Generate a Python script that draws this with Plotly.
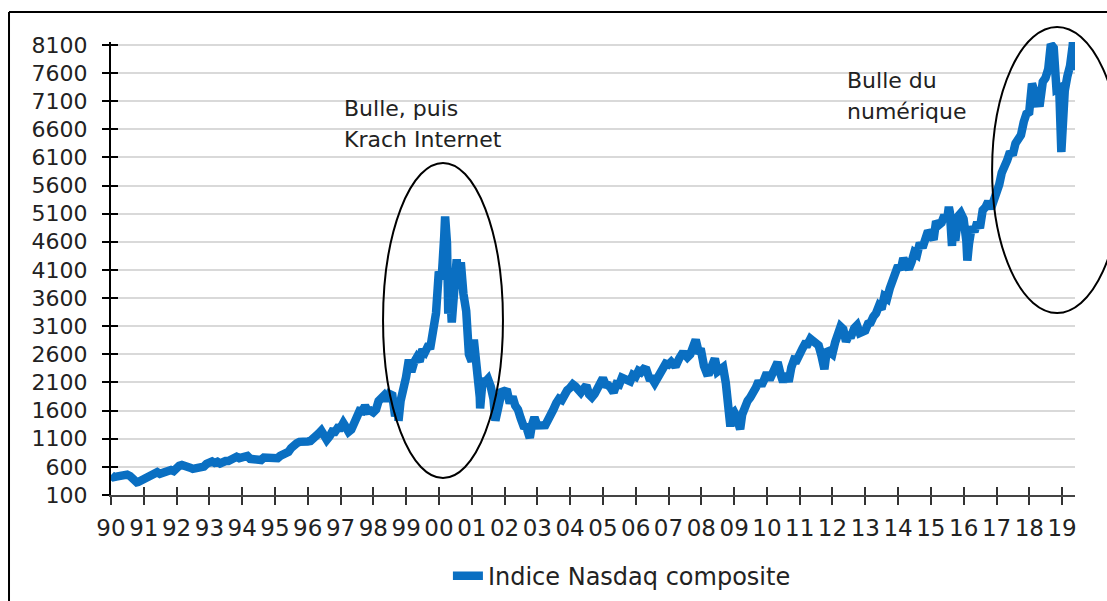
import pandas as pd
import plotly.graph_objects as go

# Monthly closing levels (approx.), Jan..Dec of each year
y1990 = [416, 426, 436, 420, 459, 462, 438, 381, 345, 330, 359, 374]
y1991 = [414, 453, 482, 485, 506, 476, 502, 526, 527, 543, 524, 586]
y1992 = [620, 633, 604, 579, 585, 564, 581, 563, 583, 605, 653, 677]
y1993 = [696, 671, 690, 661, 701, 704, 705, 743, 763, 779, 754, 777]
y1994 = [800, 793, 743, 734, 735, 706, 722, 766, 764, 777, 750, 752]
y1995 = [755, 794, 817, 844, 865, 933, 1001, 1020, 1044, 1036, 1059, 1052]
y1996 = [1060, 1100, 1101, 1191, 1243, 1185, 1081, 1142, 1227, 1222, 1293, 1291]
y1997 = [1380, 1309, 1222, 1261, 1400, 1442, 1594, 1587, 1686, 1594, 1601, 1570]
y1998 = [1619, 1771, 1836, 1868, 1779, 1895, 1872, 1499, 1694, 1771, 1950, 2193]
y1999 = [2506, 2288, 2461, 2543, 2471, 2686, 2638, 2739, 2746, 2966, 3336, 4069]
y2000 = [3940, 4697, 4573, 3861, 3401, 3966, 3767, 4206, 3673, 3370, 2598, 2471]
y2001 = [2773, 2152, 1840, 2116, 2110, 2161, 2027, 1805, 1499, 1690, 1931, 1950]
y2002 = [1934, 1731, 1845, 1688, 1616, 1463, 1328, 1315, 1172, 1330, 1479, 1336]
y2003 = [1321, 1338, 1341, 1464, 1596, 1623, 1735, 1810, 1787, 1932, 1960, 2003]
y2004 = [2066, 2030, 1994, 1920, 1987, 2048, 1887, 1838, 1897, 1975, 2097, 2175]
y2005 = [2062, 2052, 1999, 1922, 2068, 2057, 2185, 2152, 2152, 2120, 2233, 2205]
y2006 = [2306, 2281, 2340, 2323, 2179, 2172, 2091, 2184, 2258, 2367, 2432, 2415]
y2007 = [2464, 2416, 2422, 2525, 2605, 2603, 2546, 2596, 2702, 2859, 2661, 2652]
y2008 = [2390, 2271, 2279, 2413, 2523, 2293, 2326, 2368, 2092, 1721, 1536, 1577]
y2009 = [1476, 1378, 1529, 1717, 1774, 1835, 1979, 2009, 2122, 2045, 2145, 2269]
y2010 = [2147, 2238, 2398, 2461, 2257, 2109, 2255, 2114, 2369, 2507, 2498, 2653]
y2011 = [2700, 2782, 2781, 2874, 2835, 2774, 2756, 2579, 2415, 2684, 2620, 2605]
y2012 = [2814, 2967, 3092, 3046, 2827, 2935, 2940, 3067, 3116, 2977, 3010, 3020]
y2013 = [3142, 3160, 3268, 3329, 3456, 3403, 3626, 3590, 3771, 3920, 4060, 4177]
y2014 = [4104, 4308, 4199, 4115, 4243, 4408, 4370, 4580, 4493, 4631, 4792, 4736]
y2015 = [4635, 4964, 4901, 4941, 5070, 4987, 5128, 4777, 4620, 5054, 5109, 5007]
y2016 = [4614, 4558, 4870, 4775, 4948, 4843, 5162, 5213, 5312, 5189, 5324, 5383]
y2017 = [5615, 5825, 5912, 6048, 6199, 6140, 6348, 6429, 6496, 6728, 6874, 6903]
y2018 = [7411, 7273, 7063, 7066, 7442, 7510, 7672, 8110, 8046, 7306, 7331, 6635]
y2019 = [7282, 7533, 7729, 8095]

# Intra-month highs and lows visible on the chart
extreme_dates = ["1990-01-02", "1990-10-16", "1998-10-08", "2000-03-10", "2000-04-14",
                 "2000-05-23", "2000-07-17", "2000-09-01", "2001-01-24", "2001-04-04",
                 "2001-09-21", "2002-10-09", "2008-11-20", "2009-03-09", "2011-10-03",
                 "2015-07-20", "2015-08-24", "2016-02-11", "2018-08-29", "2018-12-24",
                 "2019-05-03", "2019-05-13"]
extreme_values = [459, 325, 1419, 5049, 3321, 3165, 4289, 4234, 2859, 1639,
                  1423, 1114, 1316, 1269, 2336, 5219, 4526, 4267, 8110, 6193,
                  8164, 7647]

series_name = "Indice Nasdaq composite"
annot_1 = ["Bulle, puis", "Krach Internet"]
annot_2 = ["Bulle du", "numérique"]

monthly = (y1990 + y1991 + y1992 + y1993 + y1994 + y1995 + y1996 + y1997 + y1998 +
           y1999 + y2000 + y2001 + y2002 + y2003 + y2004 + y2005 + y2006 + y2007 +
           y2008 + y2009 + y2010 + y2011 + y2012 + y2013 + y2014 + y2015 + y2016 +
           y2017 + y2018 + y2019)
month_dates = pd.date_range("1990-01-31", periods=len(monthly), freq=pd.offsets.MonthEnd())

df = pd.concat([
    pd.DataFrame({"date": month_dates, "value": monthly}),
    pd.DataFrame({"date": pd.to_datetime(extreme_dates), "value": extreme_values}),
]).sort_values("date")

FONT = "DejaVu Sans"
BLUE = "#0a6fc2"

fig = go.Figure()
fig.add_trace(go.Scatter(
    x=df["date"], y=df["value"], mode="lines", name=series_name,
    line=dict(color=BLUE, width=8.5), showlegend=True,
))
# empty trace so the overlay axes (inner half of crossing ticks) are drawn
fig.add_trace(go.Scatter(x=[], y=[], xaxis="x2", yaxis="y2", showlegend=False,
                         hoverinfo="skip"))

xrange = ["1990-01-01", "2019-05-25"]
yrange = [100, 8150]

fig.update_layout(
    width=1107, height=601,
    margin=dict(l=111, r=32, t=42, b=106, autoexpand=False),
    paper_bgcolor="white", plot_bgcolor="white",
    font=dict(family=FONT, color="#222222"),
    xaxis=dict(
        type="date", range=xrange, tick0="1990-01-01", dtick="M12", tickformat="%y",
        ticks="outside", ticklen=8, tickwidth=1.5, tickcolor="#333333",
        showline=True, linecolor="#444444", linewidth=1.5,
        showgrid=False, zeroline=False,
        tickfont=dict(family=FONT, size=23, color="#222222"),
        ticklabelstandoff=4,
    ),
    yaxis=dict(
        range=yrange, tick0=100, dtick=500,
        ticks="outside", ticklen=7, tickwidth=2, tickcolor="black",
        showline=True, linecolor="black", linewidth=2,
        showgrid=True, gridcolor="#d9d9d9", gridwidth=2, zeroline=False,
        tickfont=dict(family=FONT, size=22, color="#222222"),
        ticklabelstandoff=10,
    ),
    xaxis2=dict(
        type="date", range=xrange, tick0="1990-01-01", dtick="M12",
        overlaying="x", anchor="y2", ticks="inside", ticklen=8, tickwidth=1.5,
        tickcolor="#333333", showticklabels=False, showgrid=False, zeroline=False,
        showline=False,
    ),
    yaxis2=dict(
        range=yrange, tick0=100, dtick=500, overlaying="y", anchor="x2", side="left",
        ticks="inside", ticklen=7, tickwidth=2, tickcolor="black",
        showticklabels=False, showgrid=False, zeroline=False, showline=False,
    ),
    legend=dict(
        orientation="h", x=0.53, xanchor="center", y=-0.179, yanchor="middle",
        font=dict(family=FONT, size=24, color="#222222"), bgcolor="rgba(0,0,0,0)",
    ),
    showlegend=True,
)

# Ellipses highlighting the two bubbles
fig.add_shape(type="circle", xref="paper", yref="paper",
              x0=0.2822, x1=0.4066, y0=0.0375, y1=0.733,
              line=dict(color="black", width=2))
fig.add_shape(type="circle", xref="paper", yref="paper",
              x0=0.914, x1=1.0488, y0=0.4018, y1=1.033,
              line=dict(color="black", width=2))

# Frame around the chart (top and left edges visible)
fig.add_shape(type="line", xref="paper", yref="paper",
              x0=-0.1058, x1=1.1, y0=1.0662, y1=1.0662, line=dict(color="black", width=2))
fig.add_shape(type="line", xref="paper", yref="paper",
              x0=-0.1058, x1=-0.1058, y0=-0.4, y1=1.0662, line=dict(color="black", width=2))

annot_font = dict(family=FONT, size=22, color="#222222")
for txt, yy in zip(annot_1, [0.8543, 0.7837]):
    fig.add_annotation(text=txt, xref="paper", yref="paper", x=0.2396, y=yy,
                       xanchor="left", yanchor="middle", showarrow=False, font=annot_font)
for txt, yy in zip(annot_2, [0.9161, 0.8455]):
    fig.add_annotation(text=txt, xref="paper", yref="paper", x=0.7614, y=yy,
                       xanchor="left", yanchor="middle", showarrow=False, font=annot_font)

fig.write_html("out.html")
